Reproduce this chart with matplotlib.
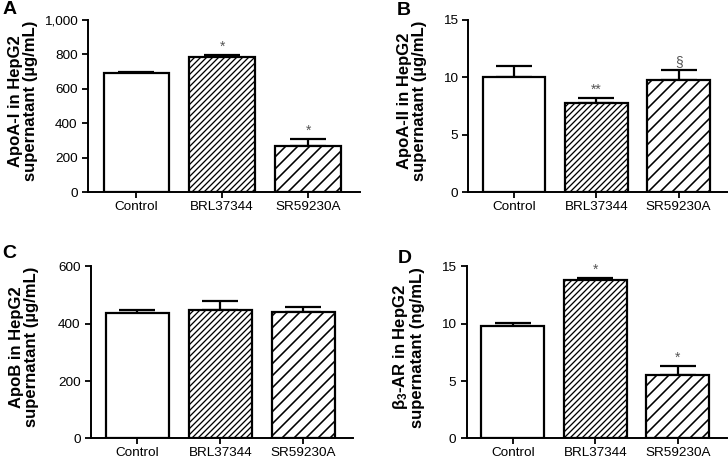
import matplotlib
matplotlib.use("Agg")
import matplotlib.pyplot as plt
import numpy as np
from matplotlib.ticker import FuncFormatter

plt.rcParams['font.family'] = ['Liberation Sans', 'DejaVu Sans']
plt.rcParams['mathtext.fontset'] = 'custom'
plt.rcParams['mathtext.rm'] = 'Liberation Sans'
plt.rcParams['mathtext.bf'] = 'Liberation Sans:bold'

cats = ['Control', 'BRL37344', 'SR59230A']

apoa1 = [692, 785, 267]
apoa1_err = [8, 10, 42]
apoa1_sig = ['', '*', '*']

apoa2 = [10.05, 7.8, 9.8]
apoa2_err = [0.92, 0.38, 0.8]
apoa2_sig = ['', '**', '§']

apob = [436, 448, 441]
apob_err = [13, 31, 17]
apob_sig = ['', '', '']

b3ar = [9.8, 13.77, 5.52]
b3ar_err = [0.22, 0.23, 0.8]
b3ar_sig = ['', '*', '*']

# saved at 72 dpi so hatch tiles land on whole pixels; S converts sizes tuned for 100 dpi
DPI = 72
S = 100 / DPI
hatches = [None, '////', '//']
hatch_lw = [1.0, 1.3, 1.6]

fig = plt.figure(figsize=(728 / DPI, 460 / DPI), dpi=DPI)

def panel(rect, vals, errs, sig, ymax, ystep, ylabel, letter, letter_pos, label_x, comma=False):
    ax = fig.add_axes(rect)
    x = np.arange(len(cats))
    for i in range(len(cats)):
        plt.rcParams['hatch.linewidth'] = hatch_lw[i]
        b = ax.bar(x[i], vals[i], width=0.76, color='white', edgecolor='black',
                   linewidth=1.6 * S, hatch=hatches[i], zorder=2)
        if hasattr(b[0], 'set_hatch_linewidth'):
            b[0].set_hatch_linewidth(hatch_lw[i])
    ax.errorbar(x, vals, yerr=[np.zeros(len(vals)), errs], fmt='none',
                ecolor='black', elinewidth=1.6 * S, capsize=13 * S,
                capthick=1.6 * S, zorder=1)
    for i in range(len(cats)):
        if sig[i]:
            ax.annotate(sig[i], (x[i], vals[i] + errs[i]), xytext=(0, 1 * S),
                        textcoords='offset points', ha='center', va='bottom',
                        fontsize=10 * S, color='#555555')
    ax.set_xlim(-0.56, 2.6)
    ax.set_ylim(0, ymax)
    ax.set_yticks(np.arange(0, ymax + ystep / 2, ystep))
    if comma:
        ax.yaxis.set_major_formatter(FuncFormatter(lambda v, p: '{:,.0f}'.format(v)))
    ax.set_xticks(x)
    ax.set_xticklabels(cats)
    ax.tick_params(labelsize=9.7 * S, width=1.3 * S, length=4 * S,
                   pad=3.5 * S, color='black')
    ax.tick_params(axis='x', pad=2.5 * S)
    for s in ['top', 'right']:
        ax.spines[s].set_visible(False)
    for s in ['left', 'bottom']:
        ax.spines[s].set_linewidth(1.4 * S)
    ax.set_ylabel(ylabel, fontsize=12 * S, fontweight='bold', linespacing=1.0)
    ax.yaxis.set_label_coords(label_x, 0.53)
    fig.text(letter_pos[0], letter_pos[1], letter, fontsize=14 * S,
             fontweight='bold', ha='left', va='top')
    return ax

panel([0.121, 0.582, 0.373, 0.375], apoa1, apoa1_err, apoa1_sig, 1000, 200,
      'ApoA-I in HepG2\nsupernatant (µg/mL)', 'A', (0.003, 0.998), -0.184, comma=True)
panel([0.643, 0.582, 0.357, 0.375], apoa2, apoa2_err, apoa2_sig, 15, 5,
      'ApoA-II in HepG2\nsupernatant (µg/mL)', 'B', (0.545, 0.996), -0.16)
panel([0.125, 0.047, 0.36, 0.374], apob, apob_err, apob_sig, 600, 200,
      'ApoB in HepG2\nsupernatant (µg/mL)', 'C', (0.003, 0.467), -0.20)
panel([0.641, 0.047, 0.358, 0.374], b3ar, b3ar_err, b3ar_sig, 15, 5,
      r'$\mathbf{\beta_3}$-AR in HepG2' + '\nsupernatant (ng/mL)', 'D', (0.547, 0.457), -0.158)

fig.savefig('out.png', dpi=DPI)
